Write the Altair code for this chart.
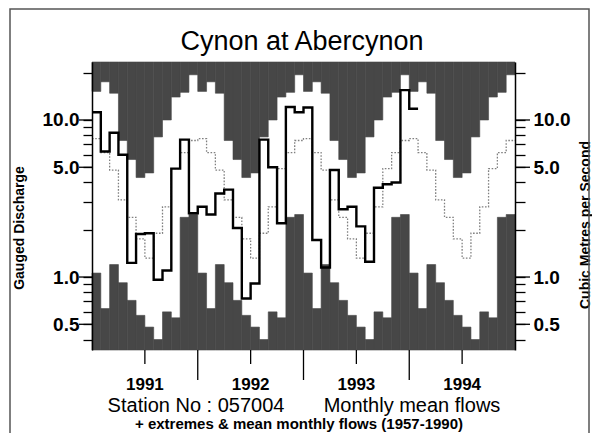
import altair as alt
import pandas as pd

# ---------------- data ----------------
years = ["1991", "1992", "1993", "1994"]
# monthly extremes and mean (1957-1990), Jan..Dec, m3/s
ext_max = [15.2, 17.5, 14.8, 7.4, 5.6, 4.3, 4.6, 7.8, 10.0, 14.0, 15.0, 19.4]
ext_min = [1.06, 0.63, 1.2, 0.92, 0.71, 0.57, 0.48, 0.40, 0.60, 0.55, 2.4, 2.5]
ext_mean = [7.6, 6.2, 4.8, 3.1, 2.4, 1.75, 1.32, 1.9, 2.8, 4.9, 6.2, 7.4]
# monthly mean flows Jan 1991 .. Jan 1994
flows_1991 = [11.2, 6.3, 8.3, 6.0, 1.23, 1.88, 1.9, 0.96, 1.1, 4.9, 7.5, 2.55]
flows_1992 = [2.8, 2.5, 3.4, 3.6, 2.05, 0.73, 0.91, 7.5, 5.0, 2.2, 12.1, 11.2]
flows_1993 = [12.0, 1.72, 1.15, 4.8, 2.7, 2.8, 2.1, 1.25, 3.7, 3.9, 4.0, 15.5]
flows_1994 = [11.8]
tick_values = [0.4, 0.5, 0.6, 0.7, 0.8, 0.9, 1, 2, 3, 4, 5, 6, 7, 8, 9, 10, 20]
major_values = [0.5, 1, 5, 10]
title_text = "Cynon at Abercynon"
left_title = "Gauged Discharge"
right_title = "Cubic Metres per Second"
station_text = "Station No : 057004"
series_text = "Monthly mean flows"
note_text = "+ extremes & mean monthly flows (1957-1990)"

# ---------------- tables ----------------
n_months = 12 * len(years)
ext = pd.DataFrame({
    "start": list(range(n_months)),
    "end": [i + 1 for i in range(n_months)],
    "max": [ext_max[i % 12] for i in range(n_months)],
    "min": [ext_min[i % 12] for i in range(n_months)],
})
mean_vals = [ext_mean[i % 12] for i in range(n_months)]
mean_df = pd.DataFrame({"x": list(range(n_months + 1)), "v": mean_vals + [mean_vals[-1]]})
flows = flows_1991 + flows_1992 + flows_1993 + flows_1994
flow_df = pd.DataFrame({"x": list(range(len(flows) + 1)), "v": flows + [flows[-1]]})
year_bound = pd.DataFrame({"x": [12 * (i + 1) for i in range(len(years) - 1)]})
year_mid = pd.DataFrame({"x": [12 * i + 6 for i in range(len(years))], "year": years})
major_df = pd.DataFrame({"v": major_values})
last_flow_month = len(flows)

W, H = 423, 288
DARK = "#474747"
FONT = "Liberation Sans"

xs = alt.Scale(domain=[0, n_months], nice=False, zero=False)
ys = alt.Scale(type="log", domain=[0.343, 23.4], nice=False)
label_expr = "indexof([0.5,1,5,10], datum.value) >= 0 ? format(datum.value, '.1f') : ''"

top = alt.Chart(ext).mark_rect(color=DARK, stroke=DARK, strokeWidth=0.6).encode(
    x=alt.X("start:Q", scale=xs, axis=alt.Axis(
        values=list(range(n_months + 1)), labels=False, tickSize=7, tickColor="black",
        tickWidth=1.2, domainColor="black", domainWidth=1.5, title=None, grid=False, zindex=1,
        tickDash={"condition": {"test": f"datum.value > {last_flow_month}", "value": [1.5, 1.5]},
                  "value": [1, 0]})),
    x2="end:Q",
    y=alt.Y("max:Q", scale=ys, axis=alt.Axis(
        orient="left", values=tick_values, labelExpr=label_expr, tickSize=9,
        tickColor="black", tickWidth=1.3, domainColor="black", domainWidth=1.5,
        labelFont=FONT, labelFontSize=19, labelFontWeight="bold", labelColor="black",
        labelPadding=4, title=None, grid=False, zindex=1)),
    y2=alt.value(0),
)

bottom = alt.Chart(ext).mark_rect(color=DARK, stroke=DARK, strokeWidth=0.6).encode(
    x=alt.X("start:Q", scale=xs, axis=None),
    x2="end:Q",
    y=alt.Y("min:Q", scale=ys, axis=None),
    y2=alt.value(H),
)

mean_line = alt.Chart(mean_df).mark_line(
    interpolate="step-after", color="#808080", strokeDash=[1.6, 1.6], strokeWidth=1.3
).encode(
    x=alt.X("x:Q", scale=xs, axis=None),
    y=alt.Y("v:Q", scale=ys, axis=alt.Axis(
        orient="right", values=tick_values, labelExpr=label_expr, tickSize=10,
        tickColor="black", tickWidth=1.3, domainColor="black", domainWidth=1.5,
        labelFont=FONT, labelFontSize=19, labelFontWeight="bold", labelColor="black",
        labelPadding=8, title=None, grid=False, zindex=1)),
)

flow_line = alt.Chart(flow_df).mark_line(
    interpolate="step-after", color="black", strokeWidth=2.4
).encode(
    x=alt.X("x:Q", scale=xs, axis=None),
    y=alt.Y("v:Q", scale=ys, axis=None),
)

major_left = alt.Chart(major_df).mark_rule(color="black", strokeWidth=1.3).encode(
    y=alt.Y("v:Q", scale=ys, axis=None), x=alt.value(-13), x2=alt.value(0))
major_right = alt.Chart(major_df).mark_rule(color="black", strokeWidth=1.3).encode(
    y=alt.Y("v:Q", scale=ys, axis=None), x=alt.value(W), x2=alt.value(W + 15))

yb_rules = alt.Chart(year_bound).mark_rule(color="black", strokeWidth=1.3).encode(
    x=alt.X("x:Q", scale=xs, axis=None), y=alt.value(H), y2=alt.value(H + 30))
ym_rules = alt.Chart(year_mid).mark_rule(color="black", strokeWidth=1.3).encode(
    x=alt.X("x:Q", scale=xs, axis=None), y=alt.value(H), y2=alt.value(H + 14))
year_labels = alt.Chart(year_mid).mark_text(
    font=FONT, fontSize=17, fontWeight="bold", color="black", baseline="middle"
).encode(x=alt.X("x:Q", scale=xs, axis=None), y=alt.value(323), text="year:N")


def label(txt, x, y, size, weight="normal", angle=0):
    return alt.Chart(pd.DataFrame({"t": [txt]})).mark_text(
        font=FONT, fontSize=size, fontWeight=weight, color="black",
        baseline="middle", align="center", angle=angle
    ).encode(x=alt.value(x), y=alt.value(y), text="t:N")


frame = alt.Chart(pd.DataFrame({"k": [0]})).mark_rect(
    fillOpacity=0, stroke="#555555", strokeWidth=1.5
).encode(x=alt.value(-82), x2=alt.value(497), y=alt.value(-53), y2=alt.value(380))

chart = alt.layer(
    top, bottom, mean_line, flow_line, major_left, major_right,
    yb_rules, ym_rules, year_labels,
    label(title_text, 210, -20, 27),
    label(left_title, -72, 166, 14, "bold", 270),
    label(right_title, 494, 163, 14, "bold", 270),
    label(station_text, 104, 344, 20),
    label(series_text, 320, 344, 20),
    label(note_text, 207, 362, 15, "bold"),
    frame,
).resolve_axis(y="independent").properties(
    width=W, height=H,
    padding={"left": 84, "top": 54, "right": 77, "bottom": 83},
    autosize=alt.AutoSizeParams(type="none"),
).configure_view(stroke=None)

chart.save("out.html", embed_options={"renderer": "svg", "actions": False})
